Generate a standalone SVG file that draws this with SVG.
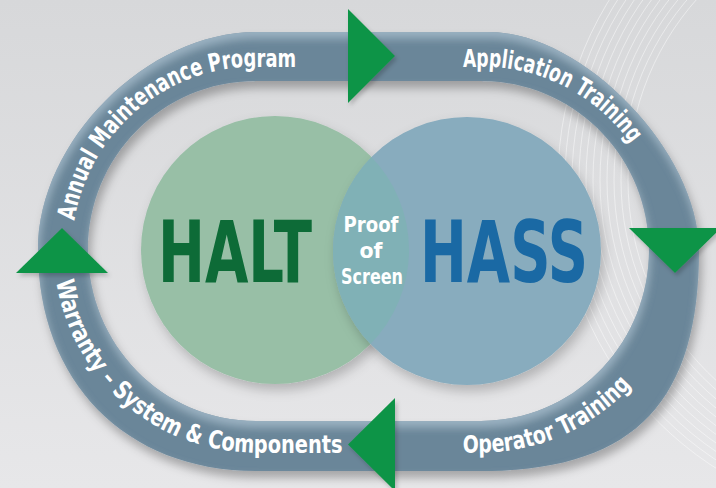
<svg xmlns="http://www.w3.org/2000/svg" width="716" height="488" viewBox="0 0 716 488">
<style>
.lbl{font-family:"DejaVu Sans Condensed","DejaVu Sans","Liberation Sans",sans-serif;font-stretch:condensed;font-weight:bold;fill:#ffffff;font-size:25px}
.big{font-family:"DejaVu Sans Condensed","DejaVu Sans","Liberation Sans",sans-serif;font-stretch:condensed;font-weight:bold;font-size:86px}
.pos{font-family:"DejaVu Sans Condensed","DejaVu Sans","Liberation Sans",sans-serif;font-stretch:condensed;font-weight:bold;fill:#ffffff;font-size:22px;text-anchor:middle}
.arrow{fill:#0f9446}
.swirl{fill:none;stroke:#ffffff;stroke-opacity:0.45;stroke-width:1}
</style>
<defs>
<linearGradient id="bg" x1="0" y1="0" x2="0" y2="1">
<stop offset="0" stop-color="#d7d8da"/>
<stop offset="1" stop-color="#e7e7e9"/>
</linearGradient>
<filter id="band" x="-10%" y="-10%" width="120%" height="125%">
<feGaussianBlur in="SourceAlpha" stdDeviation="5" result="sb"/>
<feOffset in="sb" dx="3" dy="7" result="so"/>
<feFlood flood-color="#000000" flood-opacity="0.28"/>
<feComposite in2="so" operator="in" result="shadow"/>
<feGaussianBlur in="SourceAlpha" stdDeviation="4" result="b"/>
<feOffset in="b" dx="1" dy="6" result="o"/>
<feComposite in="SourceAlpha" in2="o" operator="out" result="edge"/>
<feFlood flood-color="#9fb6c6" flood-opacity="0.9"/>
<feComposite in2="edge" operator="in" result="hl"/>
<feMerge><feMergeNode in="shadow"/><feMergeNode in="SourceGraphic"/><feMergeNode in="hl"/></feMerge>
</filter>
<filter id="soft" x="-20%" y="-20%" width="140%" height="140%">
<feDropShadow dx="3" dy="6" stdDeviation="6" flood-color="#000000" flood-opacity="0.22"/>
</filter>
<filter id="tri" x="-20%" y="-20%" width="140%" height="140%">
<feDropShadow dx="2" dy="3" stdDeviation="2" flood-color="#000000" flood-opacity="0.2"/>
</filter>
<clipPath id="greenClip"><circle cx="275" cy="250" r="134"/></clipPath>
<path id="cw" d="M 72,250.5 A 184 184 0 0 1 256,66.5 L 481,66.5 A 184 184 0 0 1 665,250.5"/>
<path id="ccw" d="M 256,48.5 A 202 202 0 0 0 256,452.5 L 481,452.5 A 202 202 0 0 0 683,250.5"/>
</defs>

<rect x="0" y="0" width="716" height="488" fill="url(#bg)"/>
<g id="decor">
<circle class="swirl" cx="900" cy="180" r="272"/>
<circle class="swirl" cx="900" cy="180" r="279"/>
<circle class="swirl" cx="900" cy="180" r="286"/>
<circle class="swirl" cx="900" cy="180" r="293"/>
<circle class="swirl" cx="900" cy="180" r="300"/>
<circle class="swirl" cx="900" cy="180" r="307"/>
<circle class="swirl" cx="900" cy="180" r="314"/>
<circle class="swirl" cx="900" cy="180" r="321"/>
<circle class="swirl" cx="900" cy="180" r="328"/>
<circle class="swirl" cx="900" cy="180" r="335"/>
<circle class="swirl" cx="900" cy="180" r="342"/>
</g>

<g id="node-halt">
<circle cx="275" cy="250" r="134" fill="#98bfa6" filter="url(#soft)"/>
<text class="big" transform="translate(158 282) scale(0.7 1)" x="0" y="0" fill="#0d6b37" textLength="220" lengthAdjust="spacingAndGlyphs">HALT</text>
</g>
<g id="node-hass">
<circle cx="467" cy="251" r="134" fill="#88acbe" filter="url(#soft)"/>
<circle cx="467" cy="251" r="134" fill="#80b1b6" clip-path="url(#greenClip)"/>
<text class="big" transform="translate(420 282) scale(0.7 1)" x="0" y="0" fill="#1a69a4" textLength="240" lengthAdjust="spacingAndGlyphs">HASS</text>
</g>
<g id="node-proof">
<text class="pos" x="371" y="232" textLength="55" lengthAdjust="spacingAndGlyphs">Proof</text>
<text class="pos" x="371" y="258" textLength="23" lengthAdjust="spacingAndGlyphs">of</text>
<text class="pos" x="372" y="284" textLength="62" lengthAdjust="spacingAndGlyphs">Screen</text>
</g>

<g id="connectors">
<path fill="#6a8699" fill-rule="evenodd" filter="url(#band)" d="M 256,32 L 489,32 C 583,32 699,152 699,250 C 699,403 634,471 481,471 L 256,471 C 125,471 38,381 38,250 C 38,141 147,32 256,32 Z M 256,81 L 481,81 C 574,81 649,157 649,250 C 649,344 574,421 481,421 L 256,421 C 162,421 88,344 88,250 C 88,157 162,81 256,81 Z"/>
<polygon class="arrow" filter="url(#tri)" points="348,9 395,56 348,103"/>
<polygon class="arrow" filter="url(#tri)" points="629,228 721,228 675,273"/>
<polygon class="arrow" filter="url(#tri)" points="395,398 395,491 348,444.5"/>
<polygon class="arrow" filter="url(#tri)" points="16,273 108,273 62,228"/>
</g>

<g id="label-annual">
<text class="lbl"><textPath href="#cw" startOffset="30" textLength="70" lengthAdjust="spacingAndGlyphs">Annual</textPath></text>
<text class="lbl"><textPath href="#cw" startOffset="106.5" textLength="130" lengthAdjust="spacingAndGlyphs">Maintenance</textPath></text>
<text class="lbl"><textPath href="#cw" startOffset="242.5" textLength="86.5" lengthAdjust="spacingAndGlyphs">Program</textPath></text>
</g>
<g id="label-application">
<text class="lbl"><textPath href="#cw" startOffset="496" textLength="193" lengthAdjust="spacingAndGlyphs">Application Training</textPath></text>
</g>
<g id="label-warranty">
<text class="lbl"><textPath href="#ccw" startOffset="348" textLength="373" lengthAdjust="spacingAndGlyphs">Warranty – System &amp; Components</textPath></text>
</g>
<g id="label-operator">
<text class="lbl"><textPath href="#ccw" startOffset="841" textLength="188" lengthAdjust="spacingAndGlyphs">Operator Training</textPath></text>
</g>
</svg>
